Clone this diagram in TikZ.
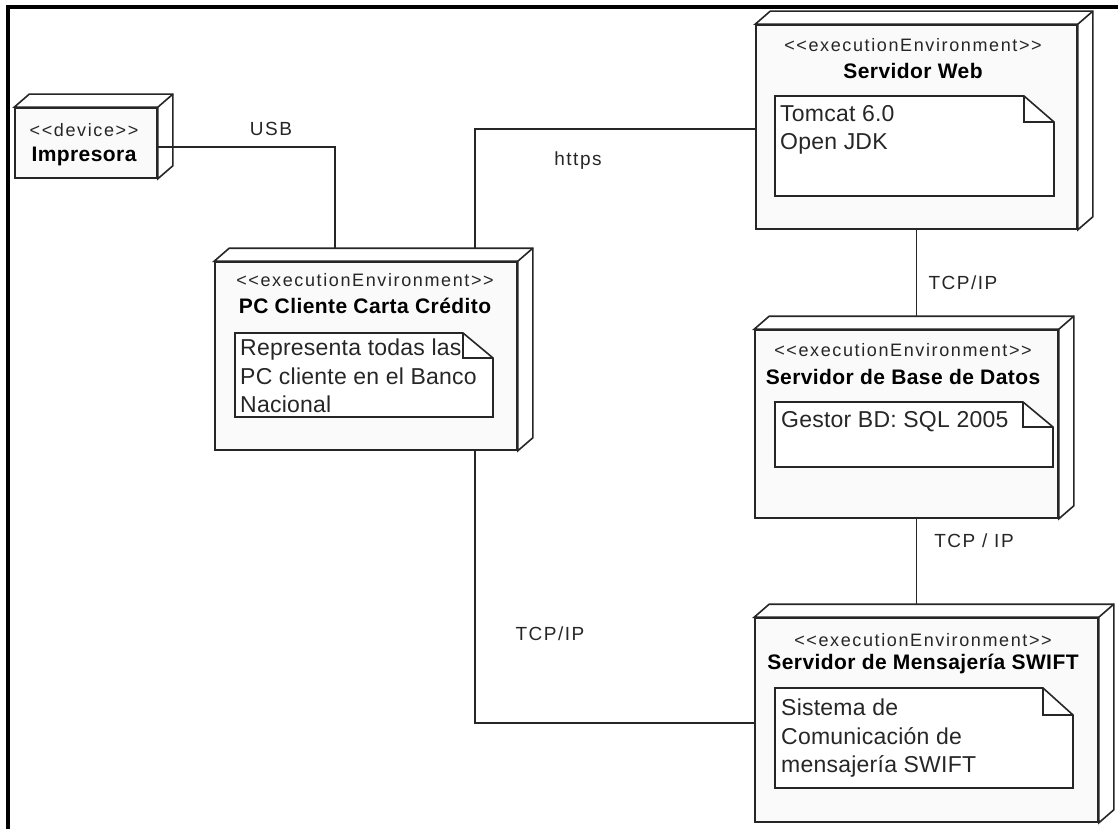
\documentclass[tikz,border=0pt]{standalone}
\usepackage{fontspec}
\setmainfont{Liberation Sans}
\newfontfamily\stfont[LetterSpace=9]{Liberation Sans}
\newfontfamily\lblfont[LetterSpace=8]{Liberation Sans}
\newfontfamily\notefont[LetterSpace=1]{Liberation Sans}
\newfontfamily\ttlfont[LetterSpace=2]{Liberation Sans}
\usetikzlibrary{calc}
\tikzset{
  nodebox/.style={draw=black!85, line width=1.6pt, fill=black!2, inner sep=0pt},
  face/.style={draw=black!85, line width=1.6pt, fill=white, line join=miter},
  conn/.style={draw=black!85, line width=1.3pt},
  notebox/.style={draw=black!85, line width=1.6pt, fill=white, line join=miter},
  stereo/.style={inner sep=0pt, font=\stfont\fontsize{18}{22}\selectfont, text=black!85},
  ttl/.style={inner sep=0pt, font=\ttlfont\bfseries\fontsize{21}{25}\selectfont},
  notetext/.style={inner sep=0pt, anchor=north west, align=left, font=\notefont\fontsize{23}{28.5}\selectfont, text=black!85},
  lbl/.style={inner sep=0pt, font=\lblfont\fontsize{19}{22}\selectfont, text=black!85},
}
\newcommand\boxdepth[1]{%
  \filldraw[face] (#1.north west) -- ++(15,-13) -- ($(#1.north east)+(15,-13)$) -- ($(#1.south east)+(15,-13)$) -- (#1.south east) -- (#1.north east) -- cycle;
  \draw[face] (#1.north east) -- ++(15,-13);
}
\newcommand\notepath[7]{% x1 y1 x2 y2 foldx foldy name
  \filldraw[notebox] (#1,#2) -- (#5,#2) -- (#3,#6) -- (#3,#4) -- (#1,#4) -- cycle;
  \draw[notebox, fill=none] (#5,#2) -- (#5,#6) -- (#3,#6);
}
\begin{document}
\begin{tikzpicture}[x=1pt,y=-1pt]
\useasboundingbox (0,0) rectangle (1118,829);
\fill[white] (0,0) rectangle (1118,829);
% frame
\draw[line width=4pt] (8,829) -- (8,7) -- (1118,7);

% nodes (front faces)
\node[nodebox, minimum width=142pt, minimum height=70pt] (imp) at (86,143) {};
\node[nodebox, minimum width=302pt, minimum height=188pt] (pc) at (366,356) {};
\node[nodebox, minimum width=321pt, minimum height=204pt] (web) at (916.5,127) {};
\node[nodebox, minimum width=303pt, minimum height=188pt] (db) at (906.5,424) {};
\node[nodebox, minimum width=343pt, minimum height=204pt] (swift) at (926.5,720) {};
\boxdepth{imp}
\boxdepth{pc}
\boxdepth{web}
\boxdepth{db}
\boxdepth{swift}

% texts
\node[stereo] (impS) at (84,130) {<<device>>};
\node[ttl] (impT) at (84,156) {Impresora};
\node[stereo] (pcS) at (365,280) {<<executionEnvironment>>};
\node[ttl] (pcT) at (365,306) {PC Cliente Carta Crédito};
\node[stereo] (webS) at (913,45) {<<executionEnvironment>>};
\node[ttl] (webT) at (913,71) {Servidor Web};
\node[stereo] (dbS) at (903,350) {<<executionEnvironment>>};
\node[ttl] (dbT) at (903,377) {Servidor de Base de Datos};
\node[stereo] (swS) at (923,640) {<<executionEnvironment>>};
\node[ttl] (swT) at (923,664) {Servidor de Mensajería SWIFT};

% notes
\notepath{235}{333}{493}{417}{463}{358}{n1}
\node[notetext] (pcN) at (240,339) {Representa todas las\\PC cliente en el Banco\\Nacional};
\notepath{775}{96}{1054}{196}{1024}{122}{n2}
\node[notetext] (webN) at (780,105) {Tomcat 6.0\\Open JDK};
\notepath{775}{402}{1053}{467}{1023}{427}{n3}
\node[notetext] (dbN) at (781,411) {Gestor BD: SQL 2005};
\notepath{775}{688}{1073}{788}{1043}{715}{n4}
\node[notetext] (swN) at (781,699) {Sistema de\\Comunicación de\\mensajería SWIFT};

% connector endpoints on top faces
\coordinate (pcUSB) at (335,249);
\coordinate (pcWeb) at (475,249);
\coordinate (dbTop) at (916.5,317);
\coordinate (swTop) at (916.5,604);

\draw[conn] ([yshift=-4pt]imp.east) -| (pcUSB);
\draw[conn] ([yshift=-2pt]web.west) -| (pcWeb);
\draw[conn] (web.south) -- (dbTop);
\draw[conn] (db.south -| swTop) -- (swTop);
\draw[conn] (pc.south -| pcWeb) |- ([yshift=-3pt]swift.west);

% labels
\node[lbl] (lUSB) at (271,129) {USB};
\node[lbl] (lhttps) at (578,161) {https};
\node[lbl] (l1) at (963,283) {TCP/IP};
\node[lbl] (l2) at (974,541) {TCP / IP};
\node[lbl] (l3) at (550,634) {TCP/IP};
\end{tikzpicture}
\end{document}
